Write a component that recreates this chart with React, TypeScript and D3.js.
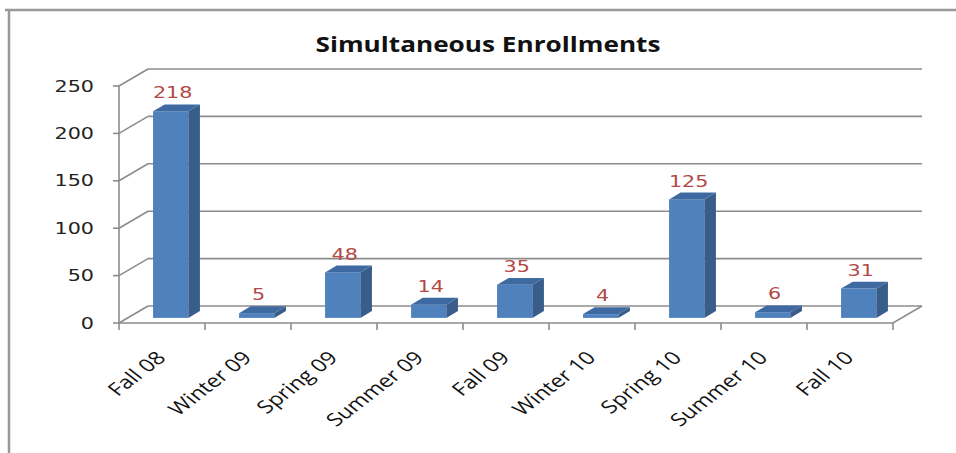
import React from 'react';
import * as d3 from 'd3';

const categories = ['Fall 08', 'Winter 09', 'Spring 09', 'Summer 09', 'Fall 09', 'Winter 10', 'Spring 10', 'Summer 10', 'Fall 10'];
const enrollments = [218, 5, 48, 14, 35, 4, 125, 6, 31];
const yTicks = [0, 50, 100, 150, 200, 250];

const W = 956;
const H = 453;
// floor depth offset (3D perspective)
const DX = 29;
const DY = 17;
const F0 = 0.3; // bar front depth fraction
const F1 = 0.7; // bar back depth fraction
const K = 1.38; // horizontal stretch of the original picture
const KL = 1.3; // stretch for rotated category labels

const gridColor = '#8c8c8c';

export default function App() {
    const x = d3.scaleBand<string>().domain(categories).range([119, 893]);
    const y = d3.scaleLinear().domain([0, 250]).range([323, 86]);
    const bw = x.bandwidth() * 0.41;
    const bdx = DX * (F1 - F0);
    const bdy = DY * (F1 - F0);

    const poly = (pts: [number, number][]) => pts.map(p => p.join(',')).join(' ');

    return (
        <svg width={W} height={H} style={{ position: 'absolute', left: 0, top: 0, background: '#fff' }}>
            {/* frame */}
            <path d="M5,10H956M9,10V453" stroke="#999" strokeWidth={2.5} fill="none" />

            <text
                x={488} y={52} textAnchor="middle"
                fontFamily="'Open Sans', sans-serif" fontWeight={700} fontSize={21}
                textLength={345} lengthAdjust="spacingAndGlyphs" fill="#111"
            >Simultaneous Enrollments</text>

            {/* walls: gridlines */}
            {yTicks.map(t => (
                <g key={t}>
                    <line x1={119} y1={y(t)} x2={119 + DX} y2={y(t) - DY} stroke={gridColor} strokeWidth={1.6} />
                    <line x1={119 + DX} y1={y(t) - DY} x2={893 + DX} y2={y(t) - DY} stroke={gridColor} strokeWidth={1.6} />
                    <line x1={113} y1={y(t)} x2={119} y2={y(t)} stroke={gridColor} strokeWidth={1.6} />
                    <text
                        transform={`translate(94,${y(t) + 5.5}) scale(${K},1)`}
                        textAnchor="end" fontFamily="'DejaVu Sans', sans-serif" fontSize={15} fill="#222"
                    >{t}</text>
                </g>
            ))}
            {/* floor */}
            <path
                d={`M119,${y(0)}H893L${893 + DX},${y(0) - DY}`}
                stroke={gridColor} strokeWidth={1.6} fill="none"
            />
            <line x1={119} y1={y(250)} x2={119} y2={y(0)} stroke={gridColor} strokeWidth={1.6} />
            {d3.range(categories.length + 1).map(i => {
                const tx = 119 + i * x.step();
                return <line key={i} x1={tx} y1={y(0)} x2={tx} y2={y(0) + 7} stroke={gridColor} strokeWidth={1.6} />;
            })}

            {/* bars */}
            {categories.map((c, i) => {
                const v = enrollments[i];
                const cx = (x(c) as number) + x.bandwidth() / 2;
                const x0 = cx - bw / 2 + DX * F0;
                const x1 = x0 + bw;
                const top = y(v) - DY * F0;
                const bot = y(0) - DY * F0;
                return (
                    <g key={c}>
                        <rect x={x0} y={top} width={bw} height={bot - top} fill="#4f81bd" />
                        <polygon points={poly([[x1, top], [x1 + bdx, top - bdy], [x1 + bdx, bot - bdy], [x1, bot]])} fill="#385d8a" />
                        <polygon points={poly([[x0, top], [x1, top], [x1 + bdx, top - bdy], [x0 + bdx, top - bdy]])} fill="#3e6aa1" />
                        <text
                            transform={`translate(${cx + DX * F0 + 2},${top - bdy - 6}) scale(${K},1)`}
                            textAnchor="middle" fontFamily="'DejaVu Sans', sans-serif" fontSize={15} fill="#b24a47"
                        >{v}</text>
                        <text
                            transform={`translate(${cx + 5},${y(0) + 36}) scale(${KL},1) rotate(-45)`}
                            textAnchor="end" fontFamily="'Open Sans', sans-serif" fontSize={18} fill="#111"
                        >{c}</text>
                    </g>
                );
            })}
        </svg>
    );
}
